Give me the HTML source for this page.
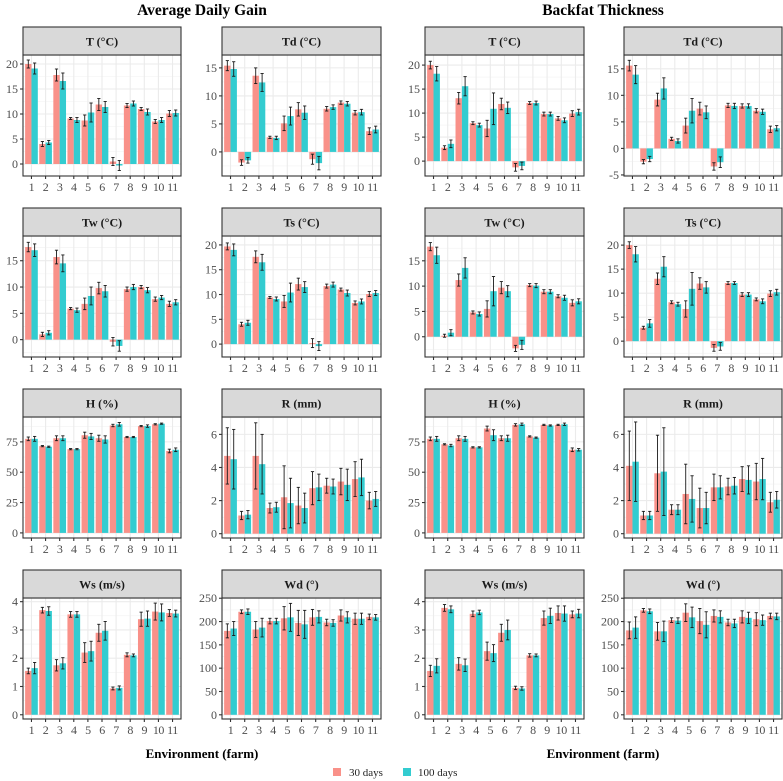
<!DOCTYPE html>
<html><head><meta charset="utf-8"><style>
html,body{margin:0;padding:0;background:#fff;}
svg{display:block;}
svg text{font-family:"Liberation Serif","DejaVu Serif",serif;}
</style></head><body>
<svg id="chart" width="783" height="781" viewBox="0 0 783 781" xmlns="http://www.w3.org/2000/svg" font-family="Liberation Serif, serif">
<text x="202" y="15" text-anchor="middle" font-weight="bold" font-size="15.5" font-family="Liberation Serif, serif">Average Daily Gain</text>
<text x="603" y="15" text-anchor="middle" font-weight="bold" font-size="15.5" font-family="Liberation Serif, serif">Backfat Thickness</text>
<text x="202" y="758" text-anchor="middle" font-weight="bold" font-size="13" font-family="Liberation Serif, serif">Environment (farm)</text>
<text x="603" y="758" text-anchor="middle" font-weight="bold" font-size="13" font-family="Liberation Serif, serif">Environment (farm)</text>
<g>
<rect x="333" y="768" width="8" height="8" fill="#F99189"/>
<text x="349" y="776" font-size="11" fill="#222" font-family="Liberation Serif, serif">30 days</text>
<rect x="403" y="768" width="8" height="8" fill="#33CCD0"/>
<text x="418" y="776" font-size="11" fill="#222" font-family="Liberation Serif, serif">100 days</text>
</g>
<g id="panels"></g>
</svg>
<script>
const categories = ["1","2","3","4","5","6","7","8","9","10","11"];

const adgT30 = [20,4.0,17.8,9.1,8.7,11.9,0.5,11.7,11.0,8.5,10.1];
const adgT30err = [0.8,0.5,1.2,0.2,1.1,1.2,0.8,0.4,0.3,0.4,0.6];
const adgT100 = [19.1,4.3,16.6,8.8,10.3,11.4,-0.3,12.1,10.4,8.8,10.2];
const adgT100err = [1.1,0.4,1.6,0.5,1.9,1.1,1.0,0.5,0.6,0.5,0.6];

const adgTd30 = [15.4,-1.9,13.6,2.6,5.1,7.6,-1.3,7.7,8.8,7.0,3.7];
const adgTd30err = [0.9,0.5,1.4,0.2,1.3,1.2,0.9,0.4,0.3,0.4,0.6];
const adgTd100 = [14.8,-1.5,12.4,2.5,6.4,7.0,-2.0,8.0,8.6,7.1,4.0];
const adgTd100err = [1.3,0.5,1.6,0.3,1.6,1.2,1.2,0.4,0.4,0.5,0.6];

const bfT30 = [20,2.8,13.1,7.9,6.8,11.9,-1.3,12.1,9.8,8.9,9.9];
const bfT30err = [0.8,0.4,1.2,0.3,1.7,1.2,0.8,0.3,0.4,0.4,0.6];
const bfT100 = [18.2,3.6,15.6,7.5,10.9,11.1,-1.0,12.1,9.8,8.5,10.2];
const bfT100err = [1.5,0.8,2.0,0.4,3.3,1.2,0.8,0.4,0.4,0.5,0.6];

const bfTd30 = [15.6,-2.5,9.2,1.8,4.3,7.5,-3.4,8.1,8.0,7.1,3.6];
const bfTd30err = [1.0,0.4,1.2,0.3,1.4,1.2,0.7,0.4,0.4,0.4,0.6];
const bfTd100 = [13.9,-2.0,11.3,1.4,7.1,6.8,-2.6,8.0,8.0,6.9,3.8];
const bfTd100err = [1.7,0.5,2.0,0.4,2.3,1.2,1.0,0.5,0.4,0.5,0.5];

const adgTw30 = [17.6,1.0,15.7,5.9,6.8,9.8,-0.4,9.6,10.0,7.7,6.8];
const adgTw30err = [0.9,0.4,1.3,0.2,1.1,1.1,0.8,0.4,0.3,0.4,0.5];
const adgTw100 = [17.0,1.3,14.5,5.6,8.3,9.2,-1.2,10.0,9.4,8.0,7.1];
const adgTw100err = [1.2,0.4,1.6,0.4,1.7,1.1,1.0,0.5,0.5,0.4,0.5];

const adgTs30 = [19.7,4.0,17.6,9.4,8.6,12.1,0.2,11.7,11.0,8.3,10.1];
const adgTs30err = [0.7,0.4,1.2,0.2,1.2,1.2,0.9,0.4,0.3,0.4,0.5];
const adgTs100 = [19.0,4.3,16.5,9.1,10.4,11.5,-0.4,12.0,10.3,8.6,10.3];
const adgTs100err = [1.2,0.5,1.6,0.4,1.9,1.1,0.9,0.5,0.6,0.5,0.5];

const bfTw30 = [17.8,0.2,11.2,4.8,5.5,9.7,-2.3,10.2,8.9,8.0,6.7];
const bfTw30err = [0.8,0.3,1.2,0.3,1.6,1.2,0.6,0.3,0.4,0.3,0.6];
const bfTw100 = [16.1,0.8,13.6,4.5,9.0,9.0,-1.6,10.1,8.9,7.7,7.0];
const bfTw100err = [1.6,0.6,2.0,0.4,2.9,1.1,0.9,0.4,0.4,0.5,0.5];

const bfTs30 = [20.0,2.8,13.0,8.1,6.7,12.0,-1.4,12.1,9.7,8.7,9.9];
const bfTs30err = [0.7,0.3,1.2,0.3,1.7,1.2,0.7,0.3,0.4,0.3,0.6];
const bfTs100 = [18.1,3.7,15.5,7.7,10.9,11.2,-1.1,12.1,9.7,8.3,10.2];
const bfTs100err = [1.6,0.8,2.1,0.4,3.4,1.2,0.8,0.3,0.4,0.5,0.6];

const adgH30 = [77.5,71.5,78,69,80.5,78,88.5,79,88,89.5,67.5];
const adgH30err = [1.5,0.5,2,0.5,2.5,2.5,1,0.5,0.5,0.5,1.5];
const adgH100 = [77.5,71,78,69,79.5,77,89.5,79,88,90,68.5];
const adgH100err = [2,0.5,2,0.5,2.5,3,1.5,0.5,1,0.5,1.5];

const adgR30 = [4.7,1.1,4.7,1.55,2.2,1.7,2.75,2.9,3.15,3.3,2.0];
const adgR30err = [1.7,0.25,2.0,0.3,1.9,1.1,1.0,0.45,0.8,1.05,0.5];
const adgR100 = [4.5,1.15,4.2,1.6,1.85,1.55,2.8,2.85,2.95,3.4,2.1];
const adgR100err = [1.8,0.25,1.8,0.3,1.5,0.9,0.8,0.45,0.95,1.1,0.45];

const bfH30 = [77.5,73,78,70.5,86,78,89,79.5,89,89,68.5];
const bfH30err = [1.5,0.5,2,0.5,2,2,1,0.5,0.5,0.5,1.5];
const bfH100 = [77.5,72,77.5,70.5,80.5,78,89.5,78.5,88.5,89.5,68.5];
const bfH100err = [2,1,2,0.5,4.5,2.5,1,0.5,0.5,1,1];

const bfR30 = [4.1,1.1,3.65,1.45,2.4,1.55,2.8,2.85,3.3,3.15,1.9];
const bfR30err = [2.1,0.25,2.3,0.3,1.8,1.2,0.8,0.5,0.75,1.1,0.6];
const bfR100 = [4.35,1.1,3.75,1.45,2.1,1.55,2.8,2.9,3.25,3.3,2.05];
const bfR100err = [2.4,0.25,2.65,0.3,1.4,0.95,0.7,0.5,0.85,1.25,0.5];

const adgWs30 = [1.55,3.7,1.75,3.55,2.2,2.9,0.93,2.12,3.38,3.65,3.6];
const adgWs30err = [0.1,0.1,0.2,0.1,0.35,0.3,0.05,0.07,0.25,0.3,0.12];
const adgWs100 = [1.65,3.67,1.82,3.55,2.25,2.97,0.95,2.1,3.4,3.62,3.58];
const adgWs100err = [0.2,0.15,0.2,0.1,0.35,0.33,0.07,0.05,0.27,0.3,0.12];

const adgWd30 = [180,221,183,201,207,197,209,198,213,206,210];
const adgWd30err = [15,4,17,6,25,27,17,7,12,12,6];
const adgWd100 = [185,221,187,201,209,194,210,197,209,206,209];
const adgWd100err = [15,6,20,6,30,30,13,7,12,12,6];

const bfWs30 = [1.55,3.78,1.8,3.57,2.25,2.9,0.95,2.1,3.42,3.6,3.55];
const bfWs30err = [0.2,0.12,0.22,0.1,0.32,0.3,0.06,0.06,0.25,0.25,0.12];
const bfWs100 = [1.73,3.73,1.75,3.62,2.18,3.0,0.93,2.1,3.5,3.58,3.58];
const bfWs100err = [0.25,0.12,0.22,0.08,0.3,0.35,0.06,0.05,0.27,0.27,0.15];

const bfWd30 = [181,224,179,203,219,201,212,198,210,205,212];
const bfWd30err = [18,4,19,5,19,27,13,7,13,14,6];
const bfWd100 = [187,222,179,202,209,193,210,196,208,203,211];
const bfWd100err = [23,5,22,6,22,28,13,9,12,11,7];

const tickT = [0,5,10,15,20];
const tickTd = [0,5,10,15];
const tickTdBf = [-5,0,5,10,15];
const tickTw = [0,5,10,15];
const tickH = [0,25,50,75];
const tickR = [0,2,4,6];
const tickWs = [0,1,2,3,4];
const tickWd = [0,50,100,150,200,250];

const panels = [
 {name:"adg-t",title:"T (°C)",col:0,row:0,lo:-2.4,hi:21.8,ticks:tickT,a:adgT30,ae:adgT30err,b:adgT100,be:adgT100err},
 {name:"adg-td",title:"Td (°C)",col:1,row:0,lo:-4.3,hi:17.3,ticks:tickTd,a:adgTd30,ae:adgTd30err,b:adgTd100,be:adgTd100err},
 {name:"bf-t",title:"T (°C)",col:2,row:0,lo:-3.1,hi:22.1,ticks:tickT,a:bfT30,ae:bfT30err,b:bfT100,be:bfT100err},
 {name:"bf-td",title:"Td (°C)",col:3,row:0,lo:-5.2,hi:17.6,ticks:tickTdBf,a:bfTd30,ae:bfTd30err,b:bfTd100,be:bfTd100err},
 {name:"adg-tw",title:"Tw (°C)",col:0,row:1,lo:-3.3,hi:19.7,ticks:tickTw,a:adgTw30,ae:adgTw30err,b:adgTw100,be:adgTw100err},
 {name:"adg-ts",title:"Ts (°C)",col:1,row:1,lo:-2.6,hi:21.8,ticks:tickT,a:adgTs30,ae:adgTs30err,b:adgTs100,be:adgTs100err},
 {name:"bf-tw",title:"Tw (°C)",col:2,row:1,lo:-4.0,hi:19.9,ticks:tickTw,a:bfTw30,ae:bfTw30err,b:bfTw100,be:bfTw100err},
 {name:"bf-ts",title:"Ts (°C)",col:3,row:1,lo:-3.3,hi:21.9,ticks:tickT,a:bfTs30,ae:bfTs30err,b:bfTs100,be:bfTs100err},
 {name:"adg-h",title:"H (%)",col:0,row:2,lo:-4.2,hi:95.5,ticks:tickH,a:adgH30,ae:adgH30err,b:adgH100,be:adgH100err},
 {name:"adg-r",title:"R (mm)",col:1,row:2,lo:-0.26,hi:7.05,ticks:tickR,a:adgR30,ae:adgR30err,b:adgR100,be:adgR100err},
 {name:"bf-h",title:"H (%)",col:2,row:2,lo:-4.2,hi:95.5,ticks:tickH,a:bfH30,ae:bfH30err,b:bfH100,be:bfH100err},
 {name:"bf-r",title:"R (mm)",col:3,row:2,lo:-0.26,hi:7.05,ticks:tickR,a:bfR30,ae:bfR30err,b:bfR100,be:bfR100err},
 {name:"adg-ws",title:"Ws (m/s)",col:0,row:3,lo:-0.15,hi:4.13,ticks:tickWs,a:adgWs30,ae:adgWs30err,b:adgWs100,be:adgWs100err},
 {name:"adg-wd",title:"Wd (°)",col:1,row:3,lo:-9,hi:250.5,ticks:tickWd,a:adgWd30,ae:adgWd30err,b:adgWd100,be:adgWd100err},
 {name:"bf-ws",title:"Ws (m/s)",col:2,row:3,lo:-0.15,hi:4.13,ticks:tickWs,a:bfWs30,ae:bfWs30err,b:bfWs100,be:bfWs100err},
 {name:"bf-wd",title:"Wd (°)",col:3,row:3,lo:-9,hi:250.5,ticks:tickWd,a:bfWd30,ae:bfWd30err,b:bfWd100,be:bfWd100err}
];

const NS = "http://www.w3.org/2000/svg";
const FONT = "Liberation Serif, serif";
const colLeft = [23,222,425,624];
const colW = [158,159,159,158];
const rowTop = [27,208,389,570];
const root = document.getElementById("panels");
function mk(tag, attrs, parent){
  const e = document.createElementNS(NS, tag);
  for (const k in attrs) e.setAttribute(k, attrs[k]);
  if (tag === "text") e.setAttribute("font-family", FONT);
  parent.appendChild(e);
  return e;
}

panels.forEach(p => {
  const L = colLeft[p.col], W = colW[p.col], T = rowTop[p.row];
  const pt = T + 28, pb = T + 149, ph = pb - pt;
  const g = mk("g", {}, root);
  
  
  const y = v => pb - (v - p.lo) / (p.hi - p.lo) * ph;
  const unit = W / (categories.length - 1 + 1.2);
  const x = i => L + unit * (0.6 + i);
  mk("rect", {x:L, y:pt, width:W, height:ph, fill:"#fff"}, g);
  for (let k = 0; k < p.ticks.length + 1; k++) {
    const step = p.ticks[1] - p.ticks[0];
    const v = p.ticks[0] - step / 2 + k * step;
    if (v > p.lo && v < p.hi) mk("line", {x1:L, x2:L+W, y1:y(v), y2:y(v), stroke:"#F2F2F2", "stroke-width":0.6}, g);
  }
  p.ticks.forEach(v => {
    mk("line", {x1:L, x2:L+W, y1:y(v), y2:y(v), stroke:"#EBEBEB", "stroke-width":1.1}, g);
  });
  categories.forEach((c, i) => {
    mk("line", {x1:x(i), x2:x(i), y1:pt, y2:pb, stroke:"#EBEBEB", "stroke-width":1.1}, g);
  });
  const bw = unit * 0.45;
  const y0 = y(0);
  const series = [[p.a, p.ae, "#F99189", "30d", -1], [p.b, p.be, "#33CCD0", "100d", 0]];
  series.forEach(s => {
    s[0].forEach((v, i) => {
      const bx = x(i) + s[4] * bw;
      const r = mk("rect", {x:bx, y:Math.min(y(v), y0), width:bw, height:Math.abs(y(v) - y0), fill:s[2]}, g);
      
      
    });
  });
  series.forEach(s => {
    s[0].forEach((v, i) => {
      const cx = x(i) + s[4] * bw + bw / 2;
      const e = s[1][i];
      const eg = mk("g", {stroke:"#1a1a1a", "stroke-width":0.9}, g);
      
      
      mk("line", {x1:cx, x2:cx, y1:y(v-e), y2:y(v+e)}, eg);
      mk("line", {x1:cx-1.6, x2:cx+1.6, y1:y(v-e), y2:y(v-e)}, eg);
      mk("line", {x1:cx-1.6, x2:cx+1.6, y1:y(v+e), y2:y(v+e)}, eg);
    });
  });
  mk("rect", {x:L, y:pt, width:W, height:ph, fill:"none", stroke:"#333", "stroke-width":1.1}, g);
  const strip = mk("rect", {x:L, y:T, width:W, height:28, fill:"#D9D9D9", stroke:"#333", "stroke-width":1.1}, g);
  
  
  const st = mk("text", {x:L + W/2, y:T + 18.5, "text-anchor":"middle", "font-weight":"bold", "font-size":"12", fill:"#1a1a1a"}, g);
  st.textContent = p.title;
  
  
  p.ticks.forEach(v => {
    mk("line", {x1:L-3, x2:L, y1:y(v), y2:y(v), stroke:"#333", "stroke-width":1.1}, g);
    const t = mk("text", {x:L-5, y:y(v)+4, "text-anchor":"end", "font-size":"12", fill:"#4D4D4D"}, g);
    t.textContent = String(v);
    
    
  });
  categories.forEach((c, i) => {
    mk("line", {x1:x(i), x2:x(i), y1:pb, y2:pb+3, stroke:"#333", "stroke-width":1.1}, g);
    const t = mk("text", {x:x(i), y:pb+15, "text-anchor":"middle", "font-size":"12", fill:"#4D4D4D", "letter-spacing":"-0.4"}, g);
    t.textContent = c;
    
    
  });
});
</script>
</body></html>
